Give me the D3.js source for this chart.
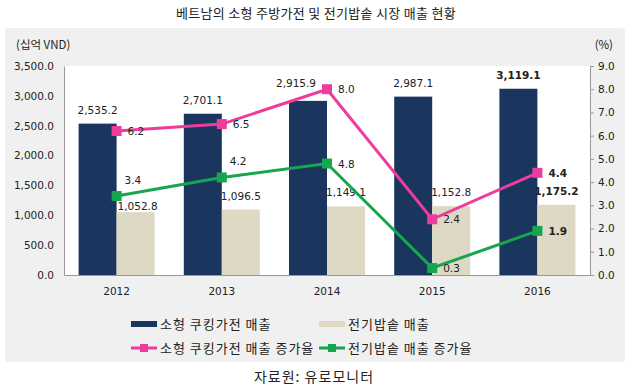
<!DOCTYPE html>
<html>
<head>
<meta charset="utf-8">
<script src="https://cdn.jsdelivr.net/npm/d3@7"></script>
<style>
  body { margin: 0; background: #fff; }
  svg { display: block; }
  .num { font-family: "DejaVu Sans", Verdana, sans-serif; font-size: 10.5px; fill: #222; }
  .kr { font-family: "Noto Sans CJK KR", "Noto Sans", sans-serif; fill: #222; }
</style>
</head>
<body>
<div id="chart"></div>
<script>
var years = ["2012", "2013", "2014", "2015", "2016"];
var cookingSales = [2535.2, 2701.1, 2915.9, 2987.1, 3119.1];
var riceCookerSales = [1052.8, 1096.5, 1149.1, 1152.8, 1175.2];
var cookingGrowth = [6.2, 6.5, 8.0, 2.4, 4.4];
var riceCookerGrowth = [3.4, 4.2, 4.8, 0.3, 1.9];
var leftTicks = [0, 500, 1000, 1500, 2000, 2500, 3000, 3500];
var rightTicks = [0, 1, 2, 3, 4, 5, 6, 7, 8, 9];

var seriesNames = ["소형 쿠킹가전 매출", "전기밥솥 매출", "소형 쿠킹가전 매출 증가율", "전기밥솥 매출 증가율"];
var colors = { navy: "#1b365e", beige: "#ddd9c4", pink: "#ec3c9c", green: "#15a64f" };

var width = 633, height = 387;
var plot = { left: 64, right: 590, top: 66, bottom: 275 };

var svg = d3.select("#chart").append("svg")
  .attr("width", width)
  .attr("height", height);

// grey panel
svg.append("rect")
  .attr("x", 5).attr("y", 28)
  .attr("width", 620).attr("height", 334)
  .attr("rx", 3)
  .attr("fill", "#f0f0f0");

svg.append("rect")
  .attr("x", plot.left).attr("y", plot.top)
  .attr("width", plot.right - plot.left).attr("height", plot.bottom - plot.top)
  .attr("fill", "#fff");

// title
svg.append("text").attr("class", "kr")
  .attr("x", 316).attr("y", 18)
  .attr("text-anchor", "middle")
  .attr("font-size", "13px")
  .attr("letter-spacing", "0.3px")
  .attr("fill", "#333")
  .text("베트남의 소형 주방가전 및 전기밥솥 시장 매출 현황");

svg.append("text").attr("class", "kr")
  .attr("x", 16).attr("y", 49)
  .attr("font-size", "11.5px")
  .text("(십억 VND)");
svg.append("text").attr("class", "kr")
  .attr("x", 613).attr("y", 49)
  .attr("text-anchor", "end")
  .attr("font-size", "11.5px")
  .text("(%)");

var x = d3.scaleBand().domain(years).range([plot.left, plot.right]);
var yL = d3.scaleLinear().domain([0, 3500]).range([plot.bottom, plot.top]);
var yR = d3.scaleLinear().domain([0, 9]).range([plot.bottom, plot.top]);
var barW = 38;
var cx = function (i) { return x(years[i]) + x.bandwidth() / 2; };

// left axis
var leftAxis = svg.append("g")
  .attr("transform", "translate(" + plot.left + ",0)")
  .call(d3.axisLeft(yL).tickValues(leftTicks).tickSize(0).tickPadding(10)
    .tickFormat(d3.format(",.1f")));
leftAxis.select(".domain").attr("stroke", "#999");
leftAxis.selectAll("text").attr("class", "num").attr("font-size", null).attr("font-family", null)
  .attr("fill", "#222");

// right axis
var rightAxis = svg.append("g")
  .attr("transform", "translate(" + plot.right + ",0)")
  .call(d3.axisRight(yR).tickValues(rightTicks).tickSize(4).tickPadding(4)
    .tickFormat(d3.format(".1f")));
rightAxis.select(".domain").attr("stroke", "#999");
rightAxis.selectAll("line").attr("stroke", "#999");
rightAxis.selectAll("text").attr("class", "num").attr("font-size", null).attr("font-family", null)
  .attr("fill", "#222");

// bottom axis
var bottomAxis = svg.append("g")
  .attr("transform", "translate(0," + plot.bottom + ")")
  .call(d3.axisBottom(x).tickSize(0).tickPadding(13));
bottomAxis.select(".domain").attr("stroke", "#999");
bottomAxis.selectAll("text").attr("class", "num").attr("font-size", null).attr("font-family", null)
  .attr("fill", "#222");

// bars
svg.append("g").selectAll("rect")
  .data(cookingSales).enter().append("rect")
  .attr("x", function (d, i) { return cx(i) - barW; })
  .attr("y", function (d) { return yL(d); })
  .attr("width", barW)
  .attr("height", function (d) { return plot.bottom - yL(d); })
  .attr("fill", colors.navy);

svg.append("g").selectAll("rect")
  .data(riceCookerSales).enter().append("rect")
  .attr("x", function (d, i) { return cx(i); })
  .attr("y", function (d) { return yL(d); })
  .attr("width", barW)
  .attr("height", function (d) { return plot.bottom - yL(d); })
  .attr("fill", colors.beige);

// bar labels (a few were nudged by hand in the original)
var cookNudge = [[0, 0], [0, 0], [-12, -4], [0, 0], [0, 0]];
var riceNudge = [[2, 8], [0, 0], [0, 0], [0, 0], [0, 0]];
var fmt = d3.format(",.1f");

svg.append("g").selectAll("text")
  .data(cookingSales).enter().append("text")
  .attr("class", "num")
  .attr("text-anchor", "middle")
  .attr("x", function (d, i) { return cx(i) - barW / 2 + cookNudge[i][0]; })
  .attr("y", function (d, i) { return yL(d) - 10 + cookNudge[i][1]; })
  .attr("font-weight", function (d, i) { return i === 4 ? "bold" : null; })
  .text(fmt);

svg.append("g").selectAll("text")
  .data(riceCookerSales).enter().append("text")
  .attr("class", "num")
  .attr("text-anchor", "middle")
  .attr("x", function (d, i) { return cx(i) + barW / 2 + riceNudge[i][0]; })
  .attr("y", function (d, i) { return yL(d) - 10 + riceNudge[i][1]; })
  .attr("font-weight", function (d, i) { return i === 4 ? "bold" : null; })
  .text(fmt);

// lines
function drawLine(values, color, labelPos) {
  var line = d3.line()
    .x(function (d, i) { return cx(i); })
    .y(function (d) { return yR(d); });
  svg.append("path")
    .datum(values)
    .attr("d", line)
    .attr("fill", "none")
    .attr("stroke", color)
    .attr("stroke-width", 3);
  svg.append("g").selectAll("rect")
    .data(values).enter().append("rect")
    .attr("x", function (d, i) { return cx(i) - 5; })
    .attr("y", function (d) { return yR(d) - 5; })
    .attr("width", 10).attr("height", 10)
    .attr("fill", color);
  svg.append("g").selectAll("text")
    .data(values).enter().append("text")
    .attr("class", "num")
    .attr("x", function (d, i) { return cx(i) + (labelPos[i] === "above" ? 8 : 11); })
    .attr("y", function (d, i) { return yR(d) + (labelPos[i] === "above" ? -12 : 4); })
    .attr("font-weight", function (d, i) { return i === 4 ? "bold" : null; })
    .text(d3.format(".1f"));
}

drawLine(cookingGrowth, colors.pink, ["right", "right", "right", "right", "right"]);
drawLine(riceCookerGrowth, colors.green, ["above", "above", "right", "right", "right"]);

// legend
var legend = [
  { name: seriesNames[0], color: colors.navy, type: "bar", x: 131, y: 324 },
  { name: seriesNames[1], color: colors.beige, type: "bar", x: 319, y: 324 },
  { name: seriesNames[2], color: colors.pink, type: "line", x: 131, y: 348 },
  { name: seriesNames[3], color: colors.green, type: "line", x: 319, y: 348 }
];
var lg = svg.append("g").selectAll("g").data(legend).enter().append("g")
  .attr("transform", function (d) { return "translate(" + d.x + "," + d.y + ")"; });
lg.filter(function (d) { return d.type === "bar"; }).append("rect")
  .attr("x", 0).attr("y", -3).attr("width", 26).attr("height", 6)
  .attr("fill", function (d) { return d.color; });
lg.filter(function (d) { return d.type === "line"; }).append("line")
  .attr("x1", 0).attr("x2", 26).attr("y1", 0).attr("y2", 0)
  .attr("stroke", function (d) { return d.color; }).attr("stroke-width", 3);
lg.filter(function (d) { return d.type === "line"; }).append("rect")
  .attr("x", 9).attr("y", -4).attr("width", 8).attr("height", 8)
  .attr("fill", function (d) { return d.color; });
lg.append("text").attr("class", "kr")
  .attr("x", 29).attr("y", 4.5)
  .attr("font-size", "13px")
  .attr("letter-spacing", "1px")
  .text(function (d) { return d.name; });

// source
svg.append("text").attr("class", "kr")
  .attr("x", 314).attr("y", 382)
  .attr("text-anchor", "middle")
  .attr("font-size", "14px")
  .attr("letter-spacing", "1px")
  .attr("fill", "#333")
  .text("자료원: 유로모니터");
</script>
</body>
</html>
